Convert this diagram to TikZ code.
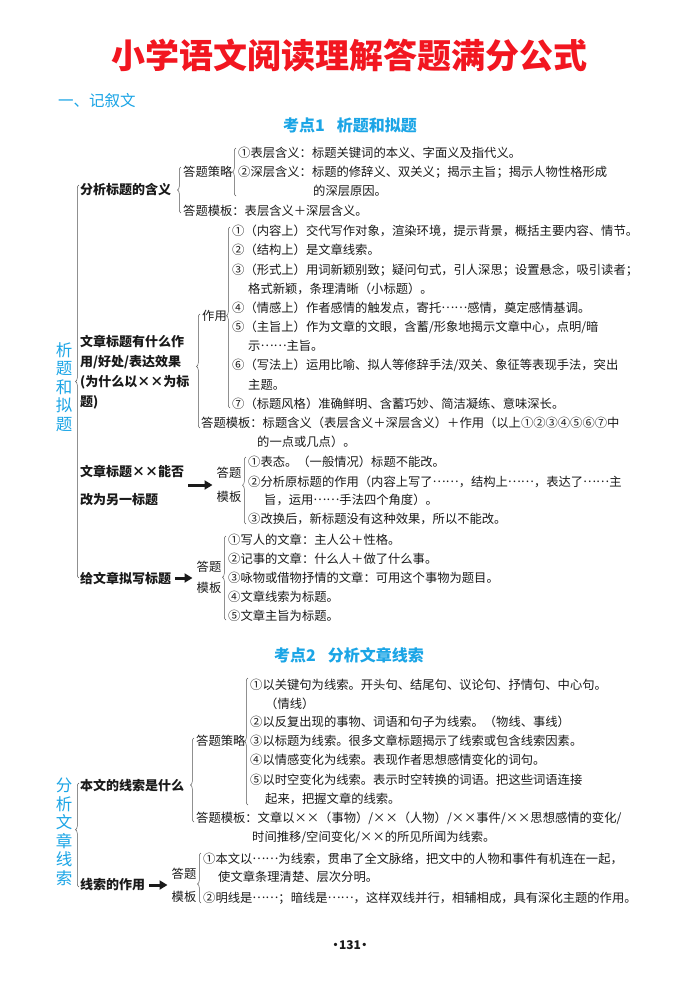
\documentclass[tikz,border=0pt]{standalone}
\usepackage{fontspec}
\setmainfont{Noto Sans CJK SC}
\usetikzlibrary{arrows.meta,decorations.pathreplacing,positioning}
\definecolor{cred}{HTML}{F21620}
\definecolor{ccyan}{HTML}{1BA5E6}
\definecolor{cink}{HTML}{1A1A1A}
\definecolor{cline}{HTML}{555555}
\newcommand{\ellip}{\raisebox{0.3em}{……}}

\begin{document}
\begin{tikzpicture}[x=1pt, y=-1pt,
    txt/.style={inner sep=0pt, anchor=west, font=\fontsize{12.3}{14}\selectfont, text=cink},
    lbl/.style={inner sep=0pt, anchor=west, align=left, font=\fontsize{13}{20}\selectfont\bfseries, text=cink},
    tag/.style={inner sep=0pt, align=center, font=\fontsize{12.3}{22}\selectfont, text=cink},
    sec/.style={inner sep=0pt, align=center, font=\fontsize{16.5}{18.5}\selectfont, text=ccyan},
    hd/.style={inner sep=0pt, font=\fontsize{16}{18}\selectfont\bfseries, text=ccyan},
    brc/.style={draw=cline, line width=0.5pt, decorate, decoration={brace, amplitude=3.5pt, aspect=#1}},
    brc/.default=0.5,
    fat/.style={-{Triangle[length=8pt, width=9pt]}, line width=3pt, cink, shorten <=4pt, shorten >=4pt}]
  \fill[white] (0,0) rectangle (699,983);
  \useasboundingbox (0,0) rectangle (699,983);

  % headings
  \node[inner sep=0pt, font=\fontsize{34}{36}\selectfont\bfseries, text=cred] (title) at (349,55) {小学语文阅读理解答题满分公式};
  \node[hd, anchor=west, font=\fontsize{15.5}{18}\selectfont] (part) at (58,101) {一、记叙文};
  \node[hd] (kd1) at (350,125) {考点1\hspace{12pt}析题和拟题};

  % kaodian 1
  \node[sec] (s1) at (64,387) {析\\题\\和\\拟\\题};
  \draw[brc] (79,578) -- (79,185);

  \node[lbl] (a1) at (80,190) {分析标题的含义};
  \draw[brc] (181,213) -- (181,167);
  \node[txt] (a1s) at (183,172) {答题策略};
  \draw[brc] (236,196) -- (236,148);
  \node[txt] (a1s1) at (238,153) {①表层含义：标题关键词的本义、字面义及指代义。};
  \node[txt] (a1s2) at (238,172) {②深层含义：标题的修辞义、双关义；揭示主旨；揭示人物性格形成};
  \node[txt] (a1s2b) at (313,191) {的深层原因。};
  \node[txt] (a1m) at (183,211) {答题模板：表层含义＋深层含义。};

  \node[lbl, anchor=north west] (a2) at (80,335) {文章标题有什么作\\用/好处/表达效果\\(为什么以××为标\\题)};
  \draw[brc=0.54] (200,428) -- (200,314);
  \node[txt] (a2u) at (202,316) {作用};
  \draw[brc=0.51] (230,408) -- (230,227);
  \node[txt] (a2u1) at (232,231) {①（内容上）交代写作对象，渲染环境，提示背景，概括主要内容、情节。};
  \node[txt] (a2u2) at (232,250) {②（结构上）是文章线索。};
  \node[txt] (a2u3) at (232,270) {③（形式上）用词新颖别致；疑问句式，引人深思；设置悬念，吸引读者；};
  \node[txt] (a2u3b) at (248,289) {格式新颖，条理清晰（小标题）。};
  \node[txt] (a2u4) at (232,308) {④（情感上）作者感情的触发点，寄托\ellip 感情，奠定感情基调。};
  \node[txt] (a2u5) at (232,327) {⑤（主旨上）作为文章的文眼，含蓄/形象地揭示文章中心，点明/暗};
  \node[txt] (a2u5b) at (248,346) {示\ellip 主旨。};
  \node[txt] (a2u6) at (232,365) {⑥（写法上）运用比喻、拟人等修辞手法/双关、象征等表现手法，突出};
  \node[txt] (a2u6b) at (248,385) {主题。};
  \node[txt] (a2u7) at (232,404) {⑦（标题风格）准确鲜明、含蓄巧妙、简洁凝练、意味深长。};
  \node[txt] (a2m) at (201,423) {答题模板：标题含义（表层含义＋深层含义）＋作用（以上①②③④⑤⑥⑦中};
  \node[txt] (a2mb) at (257,442) {的一点或几点）。};

  \node[lbl, font=\fontsize{13}{28}\selectfont\bfseries] (a3) at (80,485) {文章标题××能否\\改为另一标题};
  \node[tag, font=\fontsize{12.3}{24}\selectfont] (a3t) at (229,485) {答题\\模板};
  \draw[fat] (a3.east) -- (a3t.west);
  \draw[brc=0.58] (246,524) -- (246,457);
  \node[txt] (a3t1) at (248,462) {①表态。（一般情况）标题不能改。};
  \node[txt] (a3t2) at (248,482) {②分析原标题的作用（内容上写了\ellip，结构上\ellip，表达了\ellip 主};
  \node[txt] (a3t2b) at (264,500) {旨，运用\ellip 手法四个角度）。};
  \node[txt] (a3t3) at (248,519) {③改换后，新标题没有这种效果，所以不能改。};

  \node[lbl] (a4) at (80,578) {给文章拟写标题};
  \node[tag, font=\fontsize{12.3}{21}\selectfont] (a4t) at (209,577) {答题\\模板};
  \draw[fat] (a4.east) -- (a4t.west |- a4.east);
  \draw[brc=0.51] (226,620) -- (226,536);
  \node[txt] (a4t1) at (228,540) {①写人的文章：主人公＋性格。};
  \node[txt] (a4t2) at (228,559) {②记事的文章：什么人＋做了什么事。};
  \node[txt] (a4t3) at (228,578) {③咏物或借物抒情的文章：可用这个事物为题目。};
  \node[txt] (a4t4) at (228,597) {④文章线索为标题。};
  \node[txt] (a4t5) at (228,616) {⑤文章主旨为标题。};

  % kaodian 2
  \node[hd] (kd2) at (349,655) {考点2\hspace{12pt}分析文章线索};
  \node[sec] (s2) at (64,832) {分\\析\\文\\章\\线\\索};
  \draw[brc=0.55] (79,887) -- (79,783);

  \node[lbl] (b1) at (80,785) {本文的线索是什么};
  \draw[brc=0.44] (194,822) -- (194,738);
  \node[txt] (b1s) at (196,741) {答题策略};
  \draw[brc] (248,805) -- (248,678);
  \node[txt] (b1s1) at (250,685) {①以关键句为线索。开头句、结尾句、议论句、抒情句、中心句。};
  \node[txt] (b1s1b) at (265,704) {（情线）};
  \node[txt] (b1s2) at (250,722) {②以反复出现的事物、词语和句子为线索。（物线、事线）};
  \node[txt] (b1s3) at (250,741) {③以标题为线索。很多文章标题揭示了线索或包含线索因素。};
  \node[txt] (b1s4) at (250,760) {④以情感变化为线索。表现作者思想感情变化的词句。};
  \node[txt] (b1s5) at (250,780) {⑤以时空变化为线索。表示时空转换的词语。把这些词语连接};
  \node[txt] (b1s5b) at (265,799) {起来，把握文章的线索。};
  \node[txt] (b1m) at (196,818) {答题模板：文章以××（事物）/××（人物）/××事件/××思想感情的变化/};
  \node[txt] (b1mb) at (252,837) {时间推移/空间变化/××的所见所闻为线索。};

  \node[lbl] (b2) at (80,885) {线索的作用};
  \node[tag, font=\fontsize{12.3}{23}\selectfont] (b2t) at (184,885) {答题\\模板};
  \draw[fat] (b2.east) -- (b2t.west);
  \draw[brc=0.38] (201,903) -- (201,853);
  \node[txt] (b2t1) at (203,859) {①本文以\ellip 为线索，贯串了全文脉络，把文中的人物和事件有机连在一起，};
  \node[txt] (b2t1b) at (218,877) {使文章条理清楚、层次分明。};
  \node[txt] (b2t2) at (203,898) {②明线是\ellip；暗线是\ellip，这样双线并行，相辅相成，具有深化主题的作用。};

  \node[inner sep=0pt, font=\fontsize{12}{14}\selectfont\bfseries, text=cink] (page) at (350,945) {•\kern-2.5pt 131\kern-2.5pt •};
\end{tikzpicture}
\end{document}
